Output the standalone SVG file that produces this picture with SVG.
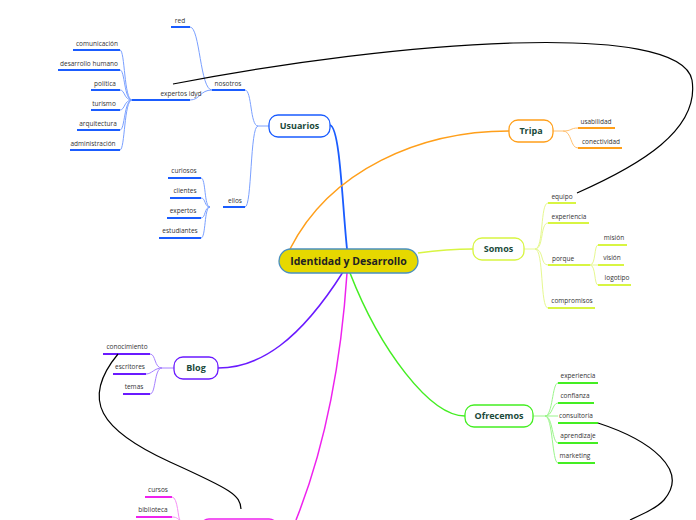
<svg xmlns="http://www.w3.org/2000/svg" width="696" height="520" viewBox="0 0 696 520">
<defs>
<marker id="ah" viewBox="0 0 10 10" refX="9" refY="5" markerWidth="7" markerHeight="7" orient="auto-start-reverse"><path d="M0,0 L10,5 L0,10 z" fill="#000"/></marker>
</defs>
<style>
.t{font-family:"Open Sans","DejaVu Sans",sans-serif;font-size:6.5px;fill:#333;text-anchor:middle}
.n{font-family:"Open Sans","DejaVu Sans",sans-serif;font-size:9px;font-weight:bold;fill:#1a4a3a;text-anchor:middle}
.c{font-family:"Open Sans","DejaVu Sans",sans-serif;font-size:10.5px;font-weight:bold;fill:#222;text-anchor:middle}
path{fill:none}
.nb{fill:#fff;stroke-width:1.3}
.u{stroke-width:2}
.l{stroke-width:1}
.blue{stroke:#1a5cff}.lblue{stroke:#7aa0ff}
.or{stroke:#ff9f1a}.lor{stroke:#ffc070}
.yg{stroke:#d8f542}.lyg{stroke:#e6f890}
.pu{stroke:#6a1aff}.lpu{stroke:#a680ff}
.mg{stroke:#ee22ee}.lmg{stroke:#f590f5}
.gr{stroke:#44ee22}.lgr{stroke:#9af58a}
.bk{stroke:#000;stroke-width:1.2}
</style>
<g id="connectors">
<path class="blue" stroke-width="1.8" d="M330,125 C340,128 342,200 347,249"/>
<path class="or" stroke-width="1.5" d="M290,249 C330,170 420,131 509,131"/>
<path class="yg" stroke-width="1.5" d="M418,253 C440,250 460,249 473,249"/>
<path class="pu" stroke-width="1.5" d="M343,272 C300,340 260,368 218,368"/>
<path class="mg" stroke-width="1.5" d="M347,273 C340,380 320,460 296,520"/>
<path class="gr" stroke-width="1.5" d="M350,273 C380,350 430,416 465,416"/>
<!-- Usuarios subs -->
<path class="lblue l" d="M269,126 L258,126 C250,126 252,90 245,90 M258,126 C250,126 252,207 245,207"/>
<path class="lblue l" d="M212,90 C200,90 200,27 190,27 M212,90 C200,90 200,100 190,100"/>
<path class="lblue l" d="M132,100 C124,100 125,50 120,50 M132,100 C124,100 125,70 120,70 M132,100 C124,100 125,90 120,90 M132,100 C124,100 125,110 120,110 M132,100 C124,100 125,130 120,130 M132,100 C124,100 125,150 120,150"/>
<path class="lblue l" d="M210,207 C204,207 206,178 201,178 M210,207 C204,207 206,198 201,198 M210,207 C204,207 206,218 201,218 M210,207 C204,207 206,238 201,238"/>
<path class="blue u" d="M212,90 H245 M223,207 H245 M171,27 H190 M132,100 H190 M73,50 H120 M58,70 H120 M91,90 H120 M91,110 H120 M77,130 H120 M70,150 H120 M168,178 H201 M170,198 H201 M167,218 H201 M159,238 H201"/>
<!-- Tripa subs -->
<path class="lor l" d="M553,131 L563,131 C572,131 570,128 578,128 M563,131 C572,131 570,148 578,148"/>
<path class="or u" d="M578,128 H615 M578,148 H622"/>
<!-- Somos subs -->
<path class="lyg l" d="M524,249 L535,249 C544,249 540,203 548,203 M535,249 C544,249 540,223 548,223 M535,249 C544,249 540,265 548,265 M535,249 C544,249 540,308 548,308"/>
<path class="lyg l" d="M590,265 C596,265 594,245 598,245 M590,265 H598 M590,265 C596,265 594,285 598,285"/>
<path class="yg u" d="M548,203 H576 M548,223 H589 M548,265 H590 M548,308 H595 M598,245 H627 M598,265 H624 M598,285 H631"/>
<!-- Blog subs -->
<path class="lpu l" d="M174,368 L162,368 C154,368 156,354 150,354 M162,368 C154,368 152,374 146,374 M162,368 C154,368 156,394 150,394"/>
<path class="pu u" d="M103,354 H150 M113,374 H146 M123,394 H150"/>
<!-- magenta subs -->
<path class="lmg l" d="M172,497 C178,497 178,520 180,520 M172,517 C178,517 178,520 180,520"/>
<path class="mg u" d="M145,497 H172 M136,517 H172"/>
<!-- Ofrecemos subs -->
<path class="lgr l" d="M533,416 L545,416 C553,416 552,383 558,383 M545,416 C553,416 552,403 558,403 M545,416 H558 M545,416 C553,416 552,443 558,443 M545,416 C553,416 552,463 558,463"/>
<path class="gr u" d="M558,383 H598 M558,403 H594 M558,423 H598 M558,443 H598 M558,463 H595"/>
<!-- black relations -->
<path class="bk" marker-end="url(#ah)" d="M577,193 C640,165 700,130 692,80 C680,20 400,40 173,84"/>
<path class="bk" marker-end="url(#ah)" d="M118,354 C80,400 100,430 170,462 C232,490 240,495 241,509"/>
<path class="bk" d="M598,423 C650,440 690,470 664,500 C655,510 640,515 630,520"/>
</g>
<g id="center"><rect x="279" y="249" width="139" height="24" rx="12" fill="#e6d800" stroke="#4a90c0" stroke-width="1.3"/><text class="c" x="348.5" y="265">Identidad y Desarrollo</text></g>
<g id="usuarios"><rect class="nb blue" x="269" y="115" width="61" height="22" rx="9"/><text class="n" x="299.5" y="129">Usuarios</text></g>
<g id="tripa"><rect class="nb or" x="509" y="120" width="44" height="22" rx="9"/><text class="n" x="531" y="134">Tripa</text></g>
<g id="somos"><rect class="nb yg" x="473" y="238" width="51" height="22" rx="9"/><text class="n" x="498.5" y="252">Somos</text></g>
<g id="blog"><rect class="nb pu" x="174" y="357" width="44" height="22" rx="9"/><text class="n" x="196" y="371">Blog</text></g>
<g id="ofrecemos"><rect class="nb gr" x="465" y="405" width="68" height="22" rx="9"/><text class="n" x="499" y="419">Ofrecemos</text></g>
<g id="magenta"><rect class="nb mg" x="200" y="519" width="78" height="22" rx="9"/></g>
<g id="labels">
<text class="t" x="228" y="86">nosotros</text>
<text class="t" x="180" y="23">red</text>
<text class="t" x="181" y="96">expertos idyd</text>
<text class="t" x="97" y="46">comunicación</text>
<text class="t" x="89" y="66">desarrollo humano</text>
<text class="t" x="105" y="86">política</text>
<text class="t" x="104" y="106">turismo</text>
<text class="t" x="98" y="126">arquitectura</text>
<text class="t" x="93" y="146">administración</text>
<text class="t" x="235" y="203">ellos</text>
<text class="t" x="184" y="173">curiosos</text>
<text class="t" x="185" y="193">clientes</text>
<text class="t" x="183" y="213">expertos</text>
<text class="t" x="180" y="233">estudiantes</text>
<text class="t" x="596" y="124">usabilidad</text>
<text class="t" x="601" y="144">conectividad</text>
<text class="t" x="562" y="199">equipo</text>
<text class="t" x="569" y="219">experiencia</text>
<text class="t" x="563" y="261">porque</text>
<text class="t" x="572" y="303">compromisos</text>
<text class="t" x="614" y="240">misión</text>
<text class="t" x="612" y="260">visión</text>
<text class="t" x="617" y="280">logotipo</text>
<text class="t" x="127" y="349">conocimiento</text>
<text class="t" x="130" y="369">escritores</text>
<text class="t" x="134" y="389">temas</text>
<text class="t" x="158" y="492">cursos</text>
<text class="t" x="153" y="512">biblioteca</text>
<text class="t" x="578" y="378">experiencia</text>
<text class="t" x="575" y="398">confianza</text>
<text class="t" x="576" y="418">consultoria</text>
<text class="t" x="578" y="438">aprendizaje</text>
<text class="t" x="575" y="458">marketing</text>
</g>
</svg>
